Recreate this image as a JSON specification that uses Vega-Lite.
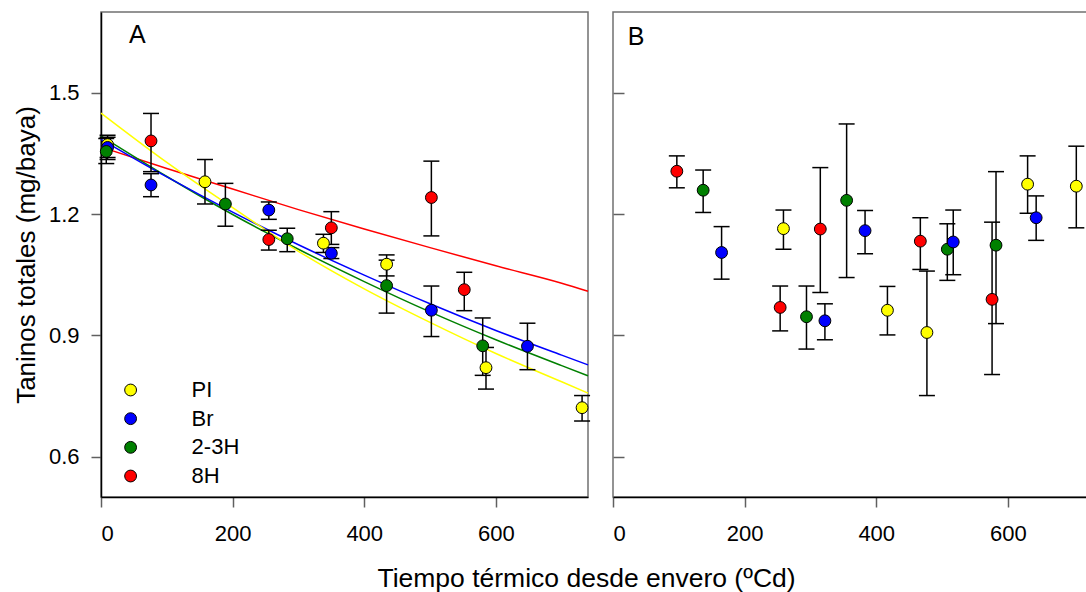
{
  "$schema": "https://vega.github.io/schema/vega-lite/v6.json",
  "padding": {"left": 12, "top": 11, "right": 0, "bottom": 0},
  "background": "white",
  "bounds": "flush",
  "config": {
    "font": "Liberation Sans",
    "view": {"stroke": "#707070", "strokeWidth": 1.5},
    "axis": {
      "grid": false,
      "labelFontSize": 22,
      "titleFontSize": 26,
      "titleFontWeight": "normal",
      "labelColor": "#000000",
      "titleColor": "#000000",
      "domainColor": "#000000",
      "domainWidth": 1.5,
      "tickColor": "#606060",
      "tickWidth": 1.5,
      "tickSize": 10
    },
    "legend": {
      "symbolType": "circle",
      "symbolSize": 140,
      "symbolStrokeColor": "#000000",
      "symbolStrokeWidth": 1,
      "labelFontSize": 22,
      "labelColor": "#000000",
      "labelOffset": 50,
      "rowPadding": 6.67,
      "padding": 0
    }
  },
  "datasets": {
    "pts": [
      {"panel": "A", "trt": "PI", "x": 10, "y": 1.372, "lo": 1.335, "hi": 1.395},
      {"panel": "A", "trt": "PI", "x": 158, "y": 1.280, "lo": 1.225, "hi": 1.335},
      {"panel": "A", "trt": "PI", "x": 338, "y": 1.128, "lo": 1.105, "hi": 1.150},
      {"panel": "A", "trt": "PI", "x": 434, "y": 1.076, "lo": 1.047, "hi": 1.099},
      {"panel": "A", "trt": "PI", "x": 585, "y": 0.820, "lo": 0.767, "hi": 0.870},
      {"panel": "A", "trt": "PI", "x": 731, "y": 0.721, "lo": 0.688, "hi": 0.751},
      {"panel": "A", "trt": "Br", "x": 10, "y": 1.365, "lo": 1.340, "hi": 1.390},
      {"panel": "A", "trt": "Br", "x": 76, "y": 1.272, "lo": 1.243, "hi": 1.300},
      {"panel": "A", "trt": "Br", "x": 255, "y": 1.210, "lo": 1.187, "hi": 1.230},
      {"panel": "A", "trt": "Br", "x": 350, "y": 1.103, "lo": 1.090, "hi": 1.117},
      {"panel": "A", "trt": "Br", "x": 502, "y": 0.962, "lo": 0.897, "hi": 1.022},
      {"panel": "A", "trt": "Br", "x": 648, "y": 0.873, "lo": 0.815, "hi": 0.930},
      {"panel": "A", "trt": "2-3H", "x": 8, "y": 1.355, "lo": 1.325, "hi": 1.387},
      {"panel": "A", "trt": "2-3H", "x": 189, "y": 1.225, "lo": 1.170, "hi": 1.276},
      {"panel": "A", "trt": "2-3H", "x": 283, "y": 1.139, "lo": 1.107, "hi": 1.165},
      {"panel": "A", "trt": "2-3H", "x": 434, "y": 1.023, "lo": 0.955, "hi": 1.086},
      {"panel": "A", "trt": "2-3H", "x": 580, "y": 0.874, "lo": 0.801, "hi": 0.943},
      {"panel": "A", "trt": "8H", "x": 76, "y": 1.381, "lo": 1.305, "hi": 1.449},
      {"panel": "A", "trt": "8H", "x": 255, "y": 1.137, "lo": 1.111, "hi": 1.160},
      {"panel": "A", "trt": "8H", "x": 350, "y": 1.166, "lo": 1.125, "hi": 1.206},
      {"panel": "A", "trt": "8H", "x": 502, "y": 1.241, "lo": 1.146, "hi": 1.331},
      {"panel": "A", "trt": "8H", "x": 552, "y": 1.013, "lo": 0.961, "hi": 1.056},
      {"panel": "B", "trt": "8H", "x": 97, "y": 1.306, "lo": 1.265, "hi": 1.344},
      {"panel": "B", "trt": "8H", "x": 254, "y": 0.969, "lo": 0.911, "hi": 1.022},
      {"panel": "B", "trt": "8H", "x": 315, "y": 1.163, "lo": 1.006, "hi": 1.315},
      {"panel": "B", "trt": "8H", "x": 467, "y": 1.133, "lo": 1.063, "hi": 1.191},
      {"panel": "B", "trt": "8H", "x": 576, "y": 0.989, "lo": 0.803, "hi": 1.180},
      {"panel": "B", "trt": "2-3H", "x": 137, "y": 1.259, "lo": 1.204, "hi": 1.309},
      {"panel": "B", "trt": "2-3H", "x": 294, "y": 0.946, "lo": 0.866, "hi": 1.022},
      {"panel": "B", "trt": "2-3H", "x": 355, "y": 1.234, "lo": 1.043, "hi": 1.423},
      {"panel": "B", "trt": "2-3H", "x": 508, "y": 1.113, "lo": 1.036, "hi": 1.176},
      {"panel": "B", "trt": "2-3H", "x": 582, "y": 1.123, "lo": 0.929, "hi": 1.305},
      {"panel": "B", "trt": "Br", "x": 165, "y": 1.105, "lo": 1.039, "hi": 1.169},
      {"panel": "B", "trt": "Br", "x": 322, "y": 0.936, "lo": 0.889, "hi": 0.978},
      {"panel": "B", "trt": "Br", "x": 383, "y": 1.159, "lo": 1.102, "hi": 1.209},
      {"panel": "B", "trt": "Br", "x": 517, "y": 1.131, "lo": 1.050, "hi": 1.210},
      {"panel": "B", "trt": "Br", "x": 643, "y": 1.191, "lo": 1.135, "hi": 1.245},
      {"panel": "B", "trt": "PI", "x": 259, "y": 1.164, "lo": 1.113, "hi": 1.210},
      {"panel": "B", "trt": "PI", "x": 417, "y": 0.962, "lo": 0.901, "hi": 1.021},
      {"panel": "B", "trt": "PI", "x": 477, "y": 0.907, "lo": 0.751, "hi": 1.059},
      {"panel": "B", "trt": "PI", "x": 630, "y": 1.274, "lo": 1.202, "hi": 1.344},
      {"panel": "B", "trt": "PI", "x": 704, "y": 1.269, "lo": 1.166, "hi": 1.368}
    ],
    "fits": [
      {"trt": "8H", "x": 0, "y": 1.366}, {"trt": "8H", "x": 100, "y": 1.313}, {"trt": "8H", "x": 200, "y": 1.262},
      {"trt": "8H", "x": 300, "y": 1.211}, {"trt": "8H", "x": 400, "y": 1.163}, {"trt": "8H", "x": 500, "y": 1.117},
      {"trt": "8H", "x": 600, "y": 1.072}, {"trt": "8H", "x": 700, "y": 1.029}, {"trt": "8H", "x": 740, "y": 1.009},
      {"trt": "2-3H", "x": 0, "y": 1.393}, {"trt": "2-3H", "x": 100, "y": 1.293}, {"trt": "2-3H", "x": 200, "y": 1.199},
      {"trt": "2-3H", "x": 300, "y": 1.113}, {"trt": "2-3H", "x": 400, "y": 1.033}, {"trt": "2-3H", "x": 500, "y": 0.958},
      {"trt": "2-3H", "x": 600, "y": 0.889}, {"trt": "2-3H", "x": 700, "y": 0.825}, {"trt": "2-3H", "x": 740, "y": 0.800},
      {"trt": "Br", "x": 0, "y": 1.385}, {"trt": "Br", "x": 100, "y": 1.292}, {"trt": "Br", "x": 200, "y": 1.205},
      {"trt": "Br", "x": 300, "y": 1.124}, {"trt": "Br", "x": 400, "y": 1.049}, {"trt": "Br", "x": 500, "y": 0.978},
      {"trt": "Br", "x": 600, "y": 0.912}, {"trt": "Br", "x": 700, "y": 0.851}, {"trt": "Br", "x": 740, "y": 0.827},
      {"trt": "PI", "x": 0, "y": 1.450}, {"trt": "PI", "x": 100, "y": 1.328}, {"trt": "PI", "x": 200, "y": 1.216},
      {"trt": "PI", "x": 300, "y": 1.108}, {"trt": "PI", "x": 400, "y": 1.015}, {"trt": "PI", "x": 500, "y": 0.932},
      {"trt": "PI", "x": 600, "y": 0.855}, {"trt": "PI", "x": 700, "y": 0.785}, {"trt": "PI", "x": 740, "y": 0.757}
    ]
  },
  "spacing": 25,
  "resolve": {"scale": {"fill": "independent"}, "legend": {"fill": "independent"}},
  "hconcat": [
    {
      "width": 487,
      "height": 485,
      "data": {"name": "pts"},
      "transform": [{"filter": "datum.panel == 'A'"}],
      "layer": [
        {
          "data": {"name": "fits"},
          "transform": [],
          "mark": {"type": "line", "strokeWidth": 1.5, "interpolate": "monotone"},
          "encoding": {
            "x": {"field": "x", "type": "quantitative", "scale": {"domain": [0, 740], "nice": false},
              "axis": {"values": [0, 200, 400, 600], "labelPadding": 16, "title": "Tiempo térmico desde envero (ºCd)", "titleFontSize": 26.5, "titleX": 485, "titleY": 89, "titleBaseline": "alphabetic", "titleAlign": "center"}},
            "y": {"field": "y", "type": "quantitative", "scale": {"domain": [0.5, 1.7], "nice": false, "zero": false},
              "axis": {"values": [0.6, 0.9, 1.2, 1.5], "format": ".1f", "labelPadding": 12, "titlePadding": 9, "title": "Taninos totales (mg/baya)"}},
            "stroke": {"field": "trt", "type": "nominal", "scale": {"domain": ["PI", "Br", "2-3H", "8H"], "range": ["#FFFF00", "#0000FF", "#008000", "#FF0000"]}, "legend": null}
          }
        },
        {
          "mark": {"type": "rule", "color": "#000000", "strokeWidth": 1.5},
          "encoding": {
            "x": {"field": "x", "type": "quantitative"},
            "y": {"field": "lo", "type": "quantitative"},
            "y2": {"field": "hi"}
          }
        },
        {
          "mark": {"type": "tick", "orient": "horizontal", "size": 16, "thickness": 1.5, "color": "#000000", "opacity": 1},
          "encoding": {
            "x": {"field": "x", "type": "quantitative"},
            "y": {"field": "lo", "type": "quantitative"}
          }
        },
        {
          "mark": {"type": "tick", "orient": "horizontal", "size": 16, "thickness": 1.5, "color": "#000000", "opacity": 1},
          "encoding": {
            "x": {"field": "x", "type": "quantitative"},
            "y": {"field": "hi", "type": "quantitative"}
          }
        },
        {
          "mark": {"type": "point", "shape": "circle", "filled": true, "size": 140, "stroke": "#000000", "strokeWidth": 1, "opacity": 1},
          "encoding": {
            "x": {"field": "x", "type": "quantitative"},
            "y": {"field": "y", "type": "quantitative"},
            "fill": {"field": "trt", "type": "nominal", "scale": {"domain": ["PI", "Br", "2-3H", "8H"], "range": ["#FFFF00", "#0000FF", "#008000", "#FF0000"]},
              "legend": {"title": null, "orient": "bottom-left", "offset": 8.7, "symbolOffset": 9.6, "direction": "vertical"}}
          }
        },
        {
          "data": {"values": [{"panel": "A", "lab": "A"}]},
          "transform": [],
          "mark": {"type": "text", "fontSize": 25, "fontWeight": "normal", "align": "left", "baseline": "alphabetic", "fill": "#000000"},
          "encoding": {"x": {"datum": 42.5}, "y": {"datum": 1.623}, "text": {"field": "lab"}}
        }
      ]
    },
    {
      "width": 487,
      "height": 485,
      "layer": [
        {
          "data": {"name": "pts"},
          "transform": [{"filter": "datum.panel == 'B'"}],
          "mark": {"type": "rule", "color": "#000000", "strokeWidth": 1.5},
          "encoding": {
            "x": {"field": "x", "type": "quantitative", "scale": {"domain": [0, 740], "nice": false},
              "axis": {"values": [0, 200, 400, 600], "labelPadding": 16, "title": null}},
            "y": {"field": "lo", "type": "quantitative", "scale": {"domain": [0.5, 1.7], "nice": false, "zero": false},
              "axis": {"values": [0.6, 0.9, 1.2, 1.5], "labels": false, "title": null, "tickSize": -11, "domain": false}},
            "y2": {"field": "hi"}
          }
        },
        {
          "data": {"name": "pts"},
          "transform": [{"filter": "datum.panel == 'B'"}],
          "mark": {"type": "tick", "orient": "horizontal", "size": 16, "thickness": 1.5, "color": "#000000", "opacity": 1},
          "encoding": {"x": {"field": "x", "type": "quantitative"}, "y": {"field": "lo", "type": "quantitative"}}
        },
        {
          "data": {"name": "pts"},
          "transform": [{"filter": "datum.panel == 'B'"}],
          "mark": {"type": "tick", "orient": "horizontal", "size": 16, "thickness": 1.5, "color": "#000000", "opacity": 1},
          "encoding": {"x": {"field": "x", "type": "quantitative"}, "y": {"field": "hi", "type": "quantitative"}}
        },
        {
          "data": {"name": "pts"},
          "transform": [{"filter": "datum.panel == 'B'"}],
          "mark": {"type": "point", "shape": "circle", "filled": true, "size": 140, "stroke": "#000000", "strokeWidth": 1, "opacity": 1},
          "encoding": {
            "x": {"field": "x", "type": "quantitative"},
            "y": {"field": "y", "type": "quantitative"},
            "fill": {"field": "trt", "type": "nominal", "scale": {"domain": ["PI", "Br", "2-3H", "8H"], "range": ["#FFFF00", "#0000FF", "#008000", "#FF0000"]}, "legend": null}
          }
        },
        {
          "data": {"values": [{"panel": "B", "lab": "B"}]},
          "mark": {"type": "text", "fontSize": 25, "fontWeight": "normal", "align": "left", "baseline": "alphabetic", "fill": "#000000"},
          "encoding": {"x": {"datum": 22.5}, "y": {"datum": 1.618}, "text": {"field": "lab"}}
        }
      ]
    }
  ]
}
